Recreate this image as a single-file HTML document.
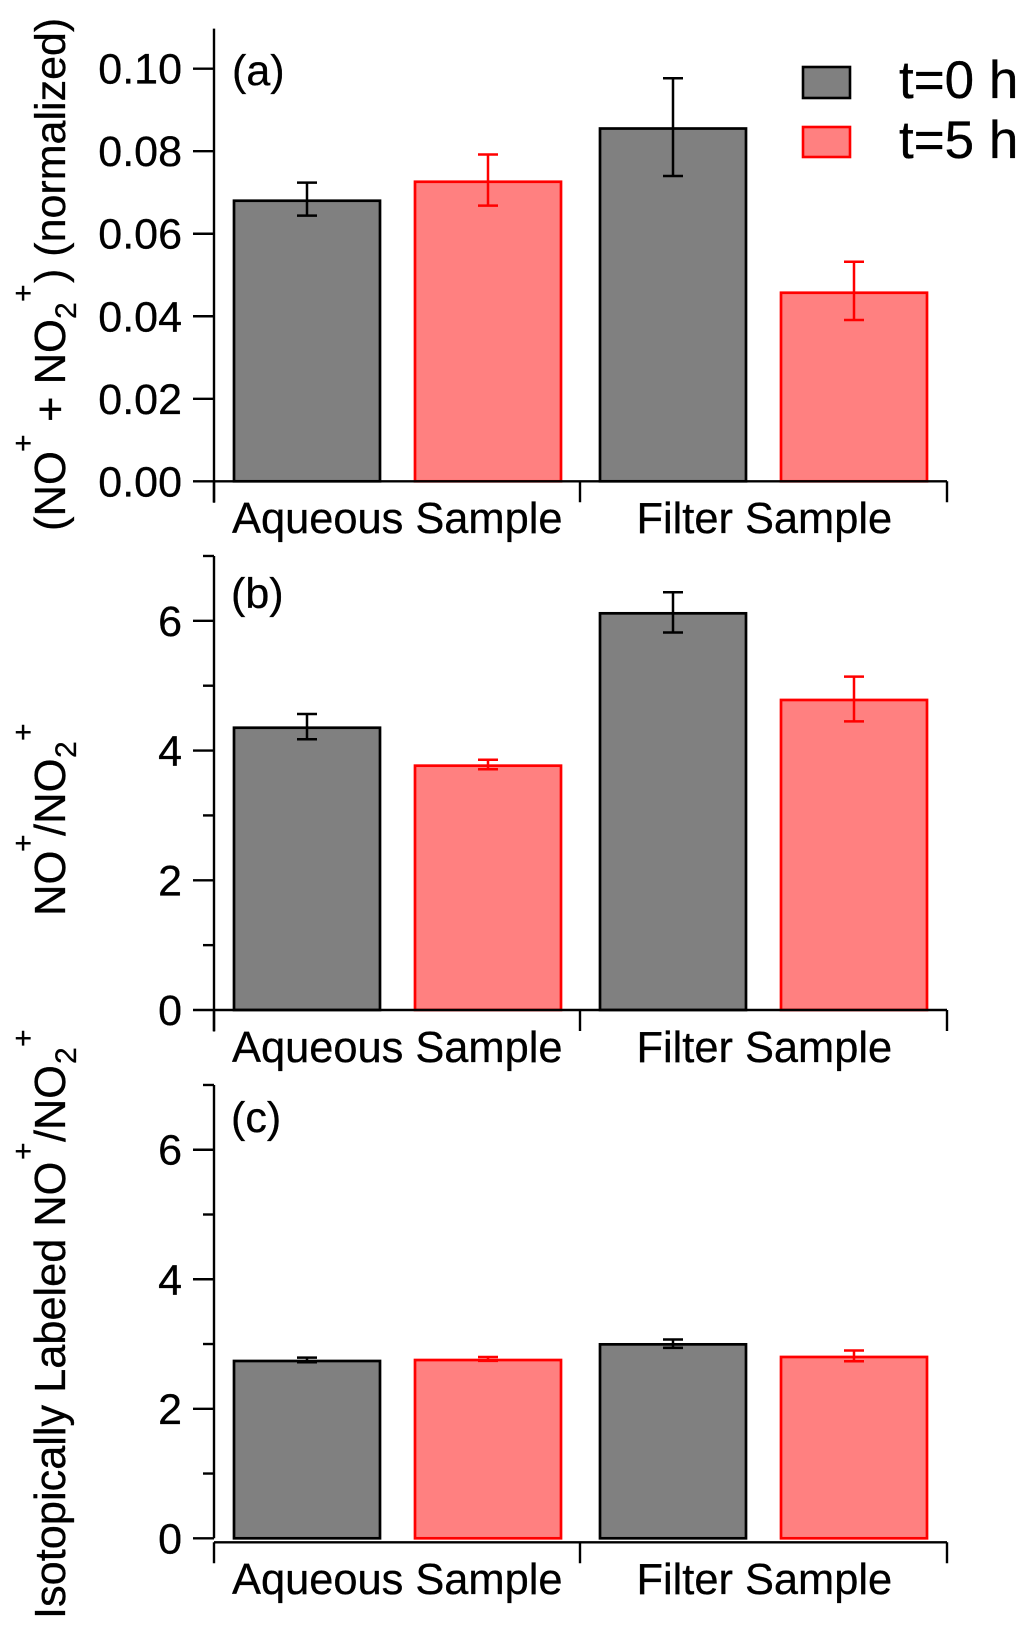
<!DOCTYPE html>
<html lang="en">
<head>
<meta charset="utf-8">
<title>NO+ and NO2+ bar charts</title>
<style>
html,body{margin:0;padding:0;background:#fff;}
body{width:1033px;height:1633px;overflow:hidden;}
svg{display:block;}
text{font-family:"Liberation Sans",Arial,sans-serif;fill:#000;stroke:#000;stroke-width:.3px;}
</style>
</head>
<body>
<svg id="chart" xmlns="http://www.w3.org/2000/svg" width="1033" height="1633" viewBox="0 0 1033 1633">
  <rect width="1033" height="1633" fill="#fff"/>
  <g id="marks"></g>

  <text transform="translate(65,0) rotate(-90)" font-size="43.6">
    <tspan x="-531">(NO</tspan><tspan x="-452" dy="-32" font-size="30">+</tspan><tspan x="-422" dy="32">+ NO</tspan><tspan x="-319" dy="11" font-size="30">2</tspan><tspan x="-302" dy="-43" font-size="30">+</tspan><tspan x="-283" dy="32" font-size="43">) (normalized)</tspan>
  </text>
  <text transform="translate(65,0) rotate(-90)" font-size="43.6">
    <tspan x="-916">NO</tspan><tspan x="-852" dy="-32" font-size="30">+</tspan><tspan x="-836" dy="32">/NO</tspan><tspan x="-758" dy="11" font-size="30">2</tspan><tspan x="-741" dy="-43" font-size="30">+</tspan>
  </text>
  <text transform="translate(65,0) rotate(-90)" font-size="43.3">
    <tspan x="-1619">Isotopically Labeled NO</tspan><tspan x="-1160" dy="-32" font-size="30">+</tspan><tspan x="-1142" dy="32">/NO</tspan><tspan x="-1064" dy="11" font-size="30">2</tspan><tspan x="-1047" dy="-43" font-size="30">+</tspan>
  </text>

  <text x="232" y="85" font-size="43">(a)</text>
  <text x="231" y="608" font-size="43">(b)</text>
  <text x="231" y="1132" font-size="43">(c)</text>

  <rect x="803" y="67" width="47" height="31" fill="#808080" stroke="#000" stroke-width="2.6"/>
  <rect x="803" y="127" width="47" height="30" fill="#ff8080" stroke="#f00" stroke-width="2.6"/>
  <text x="899" y="98" font-size="53">t=0 h</text>
  <text x="899" y="158" font-size="53">t=5 h</text>
</svg>

<script>
const groupNames = ['Aqueous Sample', 'Filter Sample'];

const panelAMeans = [0.0680, 0.0726, 0.0855, 0.0457];
const panelAUpper = [0.0724, 0.0792, 0.0977, 0.0532];
const panelALower = [0.0644, 0.0668, 0.0740, 0.0391];
const panelAMajorTicks = [0, 0.02, 0.04, 0.06, 0.08, 0.10];
const panelAMajorLabels = ['0.00', '0.02', '0.04', '0.06', '0.08', '0.10'];
const panelAMinorTicks = [];

const panelBMeans = [4.352, 3.767, 6.116, 4.78];
const panelBUpper = [4.564, 3.859, 6.44, 5.14];
const panelBLower = [4.174, 3.711, 5.82, 4.45];
const panelBMajorTicks = [0, 2, 4, 6];
const panelBMajorLabels = ['0', '2', '4', '6'];
const panelBMinorTicks = [1, 3, 5, 7];

const panelCMeans = [2.738, 2.753, 2.995, 2.80];
const panelCUpper = [2.789, 2.80, 3.07, 2.90];
const panelCLower = [2.718, 2.74, 2.94, 2.733];
const panelCMajorTicks = [0, 2, 4, 6];
const panelCMajorLabels = ['0', '2', '4', '6'];
const panelCMinorTicks = [1, 3, 5, 7];

const SVGNS = 'http://www.w3.org/2000/svg';
const root = document.getElementById('marks');

function add(tag, attrs, parent) {
  const el = document.createElementNS(SVGNS, tag);
  for (const k in attrs) el.setAttribute(k, attrs[k]);
  (parent || root).appendChild(el);
  return el;
}

const BAR_W = 146;
function barLeft(i) {
  const group = Math.floor(i / 2);
  const series = i % 2;
  return 234 + group * 366 + series * 181;
}

function drawPanel(id, zeroY, pxPerUnit, topY, axisY, means, upper, lower, major, majorLabels, minor, labelBaseline) {
  const y = function (v) { return zeroY - v * pxPerUnit; };
  const axisBottom = axisY + 21;

  means.forEach(function (m, i) {
    const x = barLeft(i);
    const t0 = i % 2 === 0;
    const edge = t0 ? '#000' : '#f00';
    const bar = add('rect', { x: x, y: y(m), width: BAR_W, height: zeroY - y(m), fill: t0 ? '#808080' : '#ff8080', stroke: edge, 'stroke-width': 2.7 });
    
    

    const cx = x + BAR_W / 2;
    const err = add('path', {
      d: 'M' + cx + ' ' + y(upper[i]) + 'V' + y(lower[i]) +
         'M' + (cx - 10) + ' ' + y(upper[i]) + 'H' + (cx + 10) +
         'M' + (cx - 10) + ' ' + y(lower[i]) + 'H' + (cx + 10),
      fill: 'none', stroke: edge, 'stroke-width': 2.5
    });
    
    
  });

  const yAxis = add('path', { d: 'M214 ' + topY + 'V' + (zeroY + (axisY === zeroY ? 21.5 : 0)), fill: 'none', stroke: '#000', 'stroke-width': 2.4 });
  
  

  major.forEach(function (v, i) {
    const tick = add('path', { d: 'M193 ' + y(v) + 'H214', stroke: '#000', 'stroke-width': 2.4 });
    
    
    const label = add('text', { x: 182, y: y(v) + 15, 'text-anchor': 'end', 'font-size': 43 });
    label.textContent = majorLabels[i];
    
    
  });

  minor.forEach(function (v) {
    const tick = add('path', { d: 'M203 ' + y(v) + 'H214', stroke: '#000', 'stroke-width': 2.4 });
    
    
  });

  const xAxis = add('path', {
    d: 'M214 ' + axisY + 'H947' +
       'M214 ' + axisY + 'V' + axisBottom +
       'M580 ' + axisY + 'V' + axisBottom +
       'M947 ' + axisY + 'V' + axisBottom,
    fill: 'none', stroke: '#000', 'stroke-width': 2.4
  });
  
  

  const labelX = [232, 636.5];
  groupNames.forEach(function (name, i) {
    const t = add('text', { x: labelX[i], y: labelBaseline, 'font-size': 43.4 });
    t.textContent = name;
    
    
  });
}

drawPanel('a', 481.3, 4126, 28.6, 481.3, panelAMeans, panelAUpper, panelALower, panelAMajorTicks, panelAMajorLabels, panelAMinorTicks, 533);
drawPanel('b', 1010, 64.86, 556, 1010, panelBMeans, panelBUpper, panelBLower, panelBMajorTicks, panelBMajorLabels, panelBMinorTicks, 1062);
drawPanel('c', 1538.3, 64.76, 1085, 1542.3, panelCMeans, panelCUpper, panelCLower, panelCMajorTicks, panelCMajorLabels, panelCMinorTicks, 1594);
</script>
</body>
</html>
